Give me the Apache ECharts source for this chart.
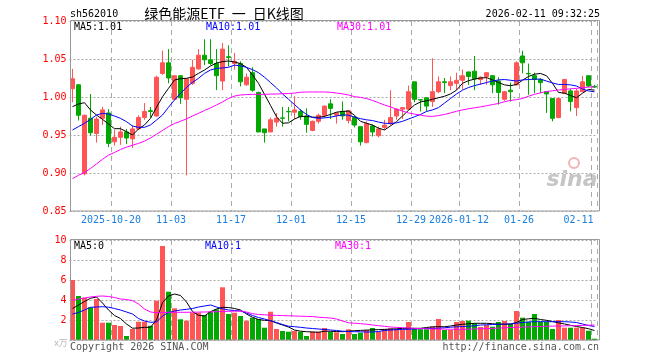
<!DOCTYPE html>
<html><head><meta charset="utf-8">
<script src="https://cdn.jsdelivr.net/npm/echarts@6/dist/echarts.min.js"></script>
<style>html,body{margin:0;padding:0;background:#fff}#c{width:660px;height:360px}</style>
</head><body><div id="c"></div>
<script>
const dates = [
'2025-10-09','2025-10-10','2025-10-13','2025-10-14','2025-10-15','2025-10-16','2025-10-17','2025-10-20','2025-10-21','2025-10-22',
'2025-10-23','2025-10-24','2025-10-27','2025-10-28','2025-10-29','2025-10-30','2025-10-31','2025-11-03','2025-11-04','2025-11-05',
'2025-11-06','2025-11-07','2025-11-10','2025-11-11','2025-11-12','2025-11-13','2025-11-14','2025-11-17','2025-11-18','2025-11-19',
'2025-11-20','2025-11-21','2025-11-24','2025-11-25','2025-11-26','2025-11-27','2025-11-28','2025-12-01','2025-12-02','2025-12-03',
'2025-12-04','2025-12-05','2025-12-08','2025-12-09','2025-12-10','2025-12-11','2025-12-12','2025-12-15','2025-12-16','2025-12-17',
'2025-12-18','2025-12-19','2025-12-22','2025-12-23','2025-12-24','2025-12-25','2025-12-26','2025-12-29','2025-12-30','2025-12-31',
'2026-01-05','2026-01-06','2026-01-07','2026-01-08','2026-01-09','2026-01-12','2026-01-13','2026-01-14','2026-01-15','2026-01-16',
'2026-01-19','2026-01-20','2026-01-21','2026-01-22','2026-01-23','2026-01-26','2026-01-27','2026-01-28','2026-01-29','2026-01-30',
'2026-02-02','2026-02-03','2026-02-04','2026-02-05','2026-02-06','2026-02-09','2026-02-10','2026-02-11'];

const opens = [1.011,1.016,0.899,0.972,0.952,0.972,0.979,0.941,0.947,0.954, 0.945,0.958,0.973,0.982,0.975,1.031,1.045,0.997,1.028,0.997,
 1.018,1.037,1.055,1.049,1.044,1.021,1.053,1.044,1.044,1.016, 1.032,1.006,0.958,0.954,0.967,0.9725,0.981,0.980,0.981,0.975,
 0.956,0.968,0.976,0.991,0.976,0.981,0.969,0.973,0.961,0.940, 0.962,0.949,0.960,0.965,0.975,0.984,0.984,1.020,0.9965,0.999,
 0.994,1.007,1.020,1.015,1.018,1.022,1.033,1.034,1.023,1.027, 1.028,1.021,0.997,1.009,1.016,1.054,1.031,1.028,1.023,1.007,
 0.998,0.973,1.005,1.008,0.986,1.007,1.028,1.014];
const closes = [1.024,0.976,0.976,0.953,0.971,0.983,0.939,0.947,0.954,0.946, 0.958,0.973,0.981,0.981,1.026,1.045,1.025,1.028,0.999,1.024,
 1.039,1.055,1.049,1.044,1.028,1.063,1.052,1.047,1.020,1.026, 1.009,0.954,0.953,0.970,0.972,0.972,0.9805,0.983,0.974,0.964,
 0.968,0.976,0.988,0.985,0.979,0.975,0.982,0.963,0.941,0.965, 0.954,0.958,0.963,0.973,0.984,0.986,1.007,0.997,0.996,0.988,
 1.007,1.020,1.019,1.020,1.022,1.028,1.027,1.024,1.026,1.032, 1.016,1.006,1.007,1.007,1.045,1.045,1.0305,1.023,1.019,1.004,
 0.972,0.998,1.023,0.994,1.008,1.020,1.0145,1.013];
const lows = [0.993,0.969,0.897,0.949,0.940,0.963,0.934,0.936,0.937,0.938, 0.933,0.957,0.970,0.973,0.974,1.029,1.018,0.996,0.991,0.897,
 1.016,1.036,1.042,1.042,1.009,1.009,1.040,1.036,1.014,1.015, 1.007,0.954,0.940,0.954,0.961,0.961,0.968,0.971,0.970,0.953,
 0.955,0.965,0.973,0.971,0.965,0.970,0.965,0.960,0.936,0.939, 0.948,0.947,0.957,0.963,0.970,0.971,0.983,0.993,0.981,0.981,
 0.987,1.005,1.005,1.009,1.009,1.010,1.016,1.009,1.016,1.016, 1.005,0.990,0.995,0.994,1.015,1.031,1.003,1.005,1.005,0.979,
 0.968,0.972,1.004,0.981,0.975,1.007,1.013,1.012];
const highs = [1.037,1.017,0.977,1.004,0.974,0.987,0.984,0.957,0.961,0.958, 0.963,0.976,0.992,0.987,1.028,1.061,1.063,1.029,1.028,1.024,
 1.049,1.063,1.076,1.076,1.063,1.071,1.068,1.058,1.047,1.031, 1.039,1.007,0.958,0.973,0.979,0.987,0.987,1.001,0.984,0.985,
 0.969,0.978,0.989,0.997,0.980,0.994,0.983,0.975,0.961,0.968, 0.964,0.961,0.970,1.009,0.985,0.987,1.015,1.020,0.997,1.000,
 1.051,1.027,1.025,1.027,1.032,1.036,1.033,1.054,1.027,1.032, 1.029,1.026,1.008,1.019,1.047,1.061,1.044,1.032,1.025,1.007,
 0.998,0.999,1.024,1.011,1.011,1.028,1.028,1.016];
const volumes = [6.0,4.4,4.23,3.27,4.1,1.73,1.73,1.5,1.4,0.4, 1.1,1.83,1.83,1.43,3.93,9.4,4.83,3.17,2.07,1.93,
 2.73,2.73,2.5,2.83,3.07,5.27,2.6,2.73,2.4,1.93, 2.23,2.1,1.23,2.83,1.1,0.9,0.83,0.9,0.83,0.4,
 0.83,0.83,1.2,0.8,0.77,0.6,1.07,0.6,0.73,1.0, 1.2,0.83,1.1,1.17,1.1,1.0,1.8,1.17,1.07,1.07,
 1.33,2.1,1.0,1.0,1.8,1.9,1.93,1.67,1.3,1.5, 1.33,1.8,1.9,1.6,2.9,2.23,1.83,2.6,1.83,1.83,
 1.1,2.0,1.23,1.23,1.23,1.23,0.93,0.13];
const ma5 = [0.9873,0.9908,0.9925,0.9829,0.9763,0.9706,0.9645,0.9583,0.9583,0.9544, 0.95,0.9579,0.9632,0.9719,0.9864,1.0004,1.0114,1.0224,1.0241,1.0246,
 1.0263,1.0311,1.0355,1.0408,1.0447,1.0465,1.0474,1.0461,1.0439,1.039, 1.029,1.018,1.0035,0.989,0.974,0.9655,0.966,0.971,0.9745,0.9745,
 0.9735,0.9733,0.9745,0.977,0.980,0.981,0.9815,0.976,0.968,0.9655, 0.963,0.959,0.9566,0.962,0.9675,0.975,0.9825,0.9895,0.9935,0.995,
 0.997,0.999,1.001,1.004,1.009,1.018,1.0215,1.0235,1.025,1.0255, 1.0225,1.019,1.016,1.0148,1.0165,1.022,1.027,1.030,1.031,1.028,
 1.018,1.006,1.005,1.002,0.999,1.005,1.010,1.009];
const ma10 = [0.9566,0.961,0.9654,0.9706,0.9763,0.9785,0.9776,0.975,0.9719,0.9675, 0.9618,0.9601,0.9601,0.9632,0.9697,0.9763,0.9864,0.9961,1.0048,1.0127,
 1.0193,1.0246,1.0311,1.0355,1.0377,1.0382,1.039,1.042,1.041,1.039, 1.036,1.032,1.026,1.019,1.012,1.004,0.997,0.990,0.983,0.977,
 0.973,0.972,0.9725,0.9735,0.975,0.9765,0.976,0.9735,0.9715,0.970, 0.969,0.967,0.9655,0.9652,0.966,0.968,0.971,0.974,0.977,0.981,
 0.983,0.986,0.992,0.998,1.004,1.009,1.0125,1.015,1.017,1.019, 1.021,1.0225,1.023,1.022,1.021,1.0225,1.023,1.0235,1.0235,1.021,
 1.0185,1.0165,1.0165,1.016,1.0145,1.0105,1.008,1.0068];
const ma30 = [0.8925,0.897,0.9005,0.906,0.912,0.918,0.9235,0.927,0.931,0.934, 0.9365,0.939,0.942,0.946,0.951,0.956,0.961,0.9652,0.968,0.9713,
 0.975,0.9785,0.9822,0.9857,0.9895,0.9935,0.998,1.0012,1.0026,1.0032, 1.0035,1.0035,1.0035,1.0038,1.004,1.0043,1.0046,1.0052,1.0062,1.0066,
 1.0066,1.0066,1.0066,1.0062,1.0052,1.0042,1.0026,1.0005,0.9995,0.998, 0.9955,0.9925,0.9895,0.987,0.984,0.9815,0.979,0.9775,0.9762,0.9748,
 0.9745,0.9755,0.977,0.979,0.9812,0.983,0.9845,0.9858,0.987,0.9885, 0.99,0.9915,0.9938,0.9955,0.9965,0.998,1.001,1.0035,1.0055,1.0072,
 1.0082,1.0092,1.01,1.0107,1.0114,1.0122,1.013,1.0134];
const vma5 = [3.15,3.5,3.85,4.17,4.3,3.7,3.0,2.45,2.15,1.6, 1.18,1.2,1.27,1.27,2.0,3.75,4.4,4.6,4.45,3.8,
 2.85,2.47,2.4,2.83,3.1,3.27,3.25,3.15,3.0,2.6, 2.27,2.05,1.97,1.93,1.7,1.5,1.3,1.0,0.88,0.83,
 0.8,0.77,0.88,0.87,0.85,0.83,0.88,0.93,0.96,0.99, 1.01,1.04,1.06,1.09,1.12,1.16,1.17,1.17,1.17,1.25,
 1.32,1.33,1.33,1.4,1.5,1.57,1.62,1.67,1.67,1.67, 1.63,1.58,1.58,1.6,1.75,2.05,2.12,2.17,2.05,1.97,
 1.85,1.72,1.6,1.47,1.35,1.25,1.13,0.95];
const vma10 = [2.6,2.75,3.0,3.27,3.3,3.33,3.28,3.15,3.0,2.8, 2.6,2.15,1.9,1.77,1.8,2.4,2.75,2.9,3.0,3.07,
 3.15,3.3,3.4,3.5,3.3,3.12,3.0,2.95,2.9,2.7, 2.45,2.25,2.1,1.93,1.75,1.55,1.38,1.33,1.27,1.2,
 1.15,1.1,1.05,1.0,0.95,0.88,0.85,0.83,0.82,0.8, 0.8,0.85,0.95,1.0,1.03,1.06,1.08,1.1,1.13,1.15,
 1.16,1.18,1.22,1.28,1.32,1.34,1.38,1.42,1.5,1.52, 1.55,1.57,1.59,1.6,1.68,1.75,1.8,1.83,1.83,1.83,
 1.83,1.83,1.83,1.8,1.75,1.6,1.45,1.35];
const vma30 = [3.95,4.1,4.2,4.3,4.37,4.4,4.35,4.25,4.1,4.05, 3.95,3.6,3.1,2.8,2.73,2.75,2.77,2.77,2.77,2.77,
 2.78,2.79,2.8,2.81,2.83,2.85,2.87,2.88,2.9,2.8, 2.63,2.55,2.52,2.48,2.46,2.44,2.42,2.4,2.38,2.36,
 2.35,2.28,2.24,2.2,2.1,1.9,1.72,1.68,1.63,1.58, 1.5,1.43,1.37,1.3,1.26,1.23,1.2,1.16,1.14,1.12,
 1.1,1.1,1.09,1.08,1.07,1.07,1.08,1.1,1.12,1.14, 1.16,1.19,1.22,1.25,1.27,1.29,1.31,1.33,1.35,1.37,
 1.39,1.4,1.41,1.43,1.44,1.46,1.48,1.5];
const tickDates = ['2025-10-20','2025-11-03','2025-11-17','2025-12-01','2025-12-15','2025-12-29','2026-01-12','2026-01-26','2026-02-11'];
const tickLabels = ['2025-10-20','11-03','11-17','12-01','12-15','12-29','2026-01-12','01-26','02-11'];
const priceTicks = [0.85, 1.10, 0.05];
const volTicks = [0, 10, 2];

const UP = '#ff5555', DOWN = '#00a800';
const MONO = '"DejaVu Sans Mono", "Liberation Mono", monospace';
const GRIDCOL = '#aaaaaa';
const L = 69.5, W = 528;

const chart = echarts.init(document.getElementById('c'), null, {renderer: 'canvas'});
const xBase = {
  type: 'category', data: dates, boundaryGap: true,
  axisLine: {show: false}, axisTick: {show: false},
  splitLine: {show: true, interval: (i) => tickDates.indexOf(dates[i]) >= 0,
    lineStyle: {color: GRIDCOL, type: [5, 4], width: 1}}
};
const option = {
  animation: false,
  backgroundColor: '#fff',
  grid: [
    {left: L, top: 21, width: W, height: 190},
    {left: L, top: 240, width: W, height: 100}
  ],
  xAxis: [
    Object.assign({}, xBase, {gridIndex: 0,
      axisLabel: {show: true, interval: (i) => tickDates.indexOf(dates[i]) >= 0, margin: 4,
        color: '#1a7fe0', fontFamily: MONO, fontSize: 10,
        formatter: (v) => { const j = tickDates.indexOf(v); if (j < 0) return ''; return (j === tickDates.length - 1 ? '{e|' : '{a|') + tickLabels[j] + '}'; },
        rich: {a: {padding: [0, 7, 0, 0], color: '#1a7fe0', fontFamily: MONO, fontSize: 10},
               e: {padding: [0, 32, 0, 0], color: '#1a7fe0', fontFamily: MONO, fontSize: 10}}}}),
    Object.assign({}, xBase, {gridIndex: 1, axisLabel: {show: false}})
  ],
  yAxis: [
    {gridIndex: 0, type: 'value', min: priceTicks[0], max: priceTicks[1], interval: priceTicks[2],
      axisLine: {show: false}, axisTick: {show: false},
      splitLine: {show: true, lineStyle: {color: GRIDCOL, type: [2, 2]}},
      axisLabel: {color: '#ff0000', fontFamily: MONO, fontSize: 10, margin: 3, formatter: (v) => v.toFixed(2)}},
    {gridIndex: 1, type: 'value', min: volTicks[0], max: volTicks[1], interval: volTicks[2],
      axisLine: {show: false}, axisTick: {show: false},
      splitLine: {show: true, lineStyle: {color: GRIDCOL, type: [2, 2]}},
      axisLabel: {color: '#ff0000', fontFamily: MONO, fontSize: 10, margin: 3, formatter: (v) => v === 0 ? '' : String(v)}}
  ],
  series: [
    {type: 'candlestick', xAxisIndex: 0, yAxisIndex: 0, barWidth: 4,
      data: dates.map((d, i) => [opens[i], closes[i], lows[i], highs[i]]),
      itemStyle: {color: UP, color0: DOWN, borderColor: UP, borderColor0: DOWN, borderWidth: 1}},
    {type: 'line', xAxisIndex: 0, yAxisIndex: 0, data: ma5, symbol: 'none', lineStyle: {color: '#000', width: 1}},
    {type: 'line', xAxisIndex: 0, yAxisIndex: 0, data: ma10, symbol: 'none', lineStyle: {color: '#0000ff', width: 1}},
    {type: 'line', xAxisIndex: 0, yAxisIndex: 0, data: ma30, symbol: 'none', lineStyle: {color: '#ff00ff', width: 1}},
    {type: 'bar', xAxisIndex: 1, yAxisIndex: 1, barWidth: 5,
      data: volumes.map((v, i) => ({value: v, itemStyle: {color: closes[i] >= opens[i] ? UP : DOWN}}))},
    {type: 'line', xAxisIndex: 1, yAxisIndex: 1, data: vma5, symbol: 'none', lineStyle: {color: '#000', width: 1}},
    {type: 'line', xAxisIndex: 1, yAxisIndex: 1, data: vma10, symbol: 'none', lineStyle: {color: '#0000ff', width: 1}},
    {type: 'line', xAxisIndex: 1, yAxisIndex: 1, data: vma30, symbol: 'none', lineStyle: {color: '#ff00ff', width: 1}}
  ],
  graphic: [
    {type: 'rect', shape: {x: 70.5, y: 20.5, width: 529, height: 190.5}, style: {fill: 'none', stroke: '#999', lineWidth: 1}, z: 100},
    {type: 'rect', shape: {x: 70.5, y: 239.5, width: 529, height: 100.5}, style: {fill: 'none', stroke: '#999', lineWidth: 1}, z: 100},
    {type: 'text', x: 70, y: 14, style: {text: 'sh562010', font: '10px ' + MONO, fill: '#000', textVerticalAlign: 'middle'}},
    {type: 'text', x: 224, y: 14, style: {text: '绿色能源ETF\u2002一\u2002日K线图', font: '14px "Noto Sans CJK SC"', fill: '#000', textAlign: 'center', textVerticalAlign: 'middle'}},
    {type: 'text', x: 600, y: 14, style: {text: '2026-02-11 09:32:25', font: '10px ' + MONO, fill: '#000', textAlign: 'right', textVerticalAlign: 'middle'}},
    {type: 'text', x: 74, y: 27, style: {text: 'MA5:1.01', font: '10px ' + MONO, fill: '#000', textVerticalAlign: 'middle'}, z: 101},
    {type: 'text', x: 206, y: 27, style: {text: 'MA10:1.01', font: '10px ' + MONO, fill: '#0000ff', textVerticalAlign: 'middle'}, z: 101},
    {type: 'text', x: 337, y: 27, style: {text: 'MA30:1.01', font: '10px ' + MONO, fill: '#ff00ff', textVerticalAlign: 'middle'}, z: 101},
    {type: 'text', x: 74, y: 246, style: {text: 'MA5:0', font: '10px ' + MONO, fill: '#000', textVerticalAlign: 'middle'}, z: 101},
    {type: 'text', x: 205, y: 246, style: {text: 'MA10:1', font: '10px ' + MONO, fill: '#0000ff', textVerticalAlign: 'middle'}, z: 101},
    {type: 'text', x: 335, y: 246, style: {text: 'MA30:1', font: '10px ' + MONO, fill: '#ff00ff', textVerticalAlign: 'middle'}, z: 101},
    {type: 'text', x: 70, y: 347, style: {text: 'Copyright 2026 SINA.COM', font: '10px ' + MONO, fill: '#555', textVerticalAlign: 'middle'}},
    {type: 'text', x: 599, y: 347, style: {text: 'http://finance.sina.com.cn', font: '10px ' + MONO, fill: '#555', textAlign: 'right', textVerticalAlign: 'middle'}},
    {type: 'text', x: 61, y: 343, style: {text: 'x万', font: '9px "Noto Sans CJK SC"', fill: '#bbb', textAlign: 'center', textVerticalAlign: 'middle'}},
    {type: 'circle', shape: {cx: 574, cy: 163, r: 5}, style: {fill: 'none', stroke: 'rgba(230,120,120,0.55)', lineWidth: 2}, z: 0},
    {type: 'text', x: 572, y: 180, style: {text: 'sina', font: 'italic bold 22px "DejaVu Sans"', fill: 'rgba(150,150,150,0.55)', textAlign: 'center', textVerticalAlign: 'middle'}, z: 0}
  ]
};
chart.setOption(option);
</script>
</body></html>
